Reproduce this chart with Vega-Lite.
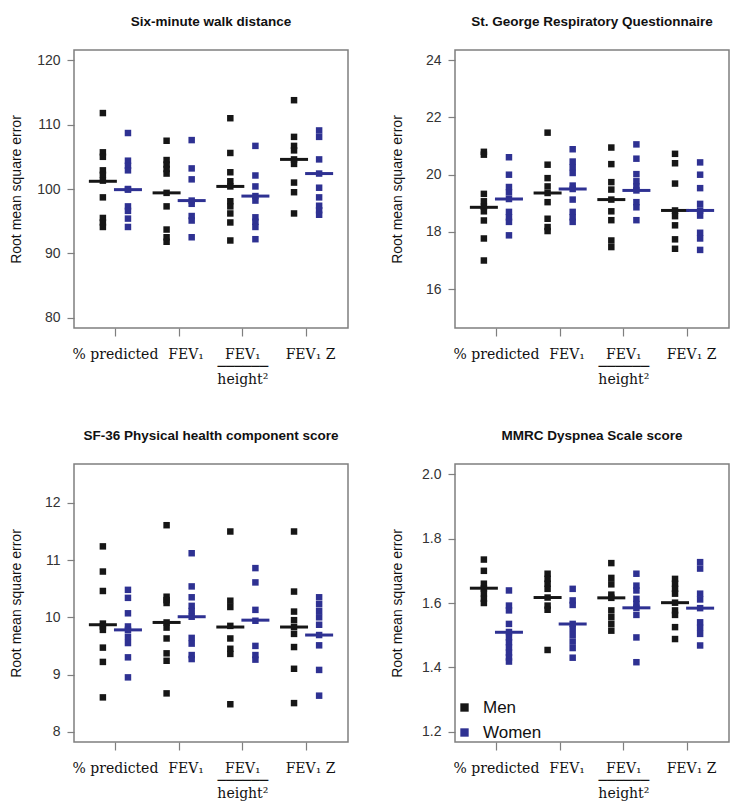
{
  "$schema": "https://vega.github.io/schema/vega-lite/v6.json",
  "padding": {"left": 8, "top": 13, "right": 5, "bottom": 2},
  "background": "white",
  "datasets": {
    "points": [
      {"panel":"6MWD","measure":"% predicted","sex":"Men","rmse":111.8},
      {"panel":"6MWD","measure":"% predicted","sex":"Men","rmse":105.7},
      {"panel":"6MWD","measure":"% predicted","sex":"Men","rmse":105.0},
      {"panel":"6MWD","measure":"% predicted","sex":"Men","rmse":102.9},
      {"panel":"6MWD","measure":"% predicted","sex":"Men","rmse":102.2},
      {"panel":"6MWD","measure":"% predicted","sex":"Men","rmse":101.3},
      {"panel":"6MWD","measure":"% predicted","sex":"Men","rmse":98.7},
      {"panel":"6MWD","measure":"% predicted","sex":"Men","rmse":95.5},
      {"panel":"6MWD","measure":"% predicted","sex":"Men","rmse":94.8},
      {"panel":"6MWD","measure":"% predicted","sex":"Men","rmse":94.1},
      {"panel":"6MWD","measure":"% predicted","sex":"Women","rmse":108.7},
      {"panel":"6MWD","measure":"% predicted","sex":"Women","rmse":104.4},
      {"panel":"6MWD","measure":"% predicted","sex":"Women","rmse":103.6},
      {"panel":"6MWD","measure":"% predicted","sex":"Women","rmse":102.9},
      {"panel":"6MWD","measure":"% predicted","sex":"Women","rmse":100.0},
      {"panel":"6MWD","measure":"% predicted","sex":"Women","rmse":99.9},
      {"panel":"6MWD","measure":"% predicted","sex":"Women","rmse":97.3},
      {"panel":"6MWD","measure":"% predicted","sex":"Women","rmse":96.6},
      {"panel":"6MWD","measure":"% predicted","sex":"Women","rmse":95.4},
      {"panel":"6MWD","measure":"% predicted","sex":"Women","rmse":94.1},
      {"panel":"6MWD","measure":"FEV₁","sex":"Men","rmse":107.5},
      {"panel":"6MWD","measure":"FEV₁","sex":"Men","rmse":104.5},
      {"panel":"6MWD","measure":"FEV₁","sex":"Men","rmse":103.8},
      {"panel":"6MWD","measure":"FEV₁","sex":"Men","rmse":103.1},
      {"panel":"6MWD","measure":"FEV₁","sex":"Men","rmse":102.4},
      {"panel":"6MWD","measure":"FEV₁","sex":"Men","rmse":99.4},
      {"panel":"6MWD","measure":"FEV₁","sex":"Men","rmse":97.3},
      {"panel":"6MWD","measure":"FEV₁","sex":"Men","rmse":93.7},
      {"panel":"6MWD","measure":"FEV₁","sex":"Men","rmse":92.5},
      {"panel":"6MWD","measure":"FEV₁","sex":"Men","rmse":91.8},
      {"panel":"6MWD","measure":"FEV₁","sex":"Women","rmse":107.6},
      {"panel":"6MWD","measure":"FEV₁","sex":"Women","rmse":103.2},
      {"panel":"6MWD","measure":"FEV₁","sex":"Women","rmse":101.5},
      {"panel":"6MWD","measure":"FEV₁","sex":"Women","rmse":98.2},
      {"panel":"6MWD","measure":"FEV₁","sex":"Women","rmse":97.7},
      {"panel":"6MWD","measure":"FEV₁","sex":"Women","rmse":95.8},
      {"panel":"6MWD","measure":"FEV₁","sex":"Women","rmse":95.1},
      {"panel":"6MWD","measure":"FEV₁","sex":"Women","rmse":92.5},
      {"panel":"6MWD","measure":"FEV₁/height²","sex":"Men","rmse":111.0},
      {"panel":"6MWD","measure":"FEV₁/height²","sex":"Men","rmse":105.6},
      {"panel":"6MWD","measure":"FEV₁/height²","sex":"Men","rmse":102.6},
      {"panel":"6MWD","measure":"FEV₁/height²","sex":"Men","rmse":101.2},
      {"panel":"6MWD","measure":"FEV₁/height²","sex":"Men","rmse":100.4},
      {"panel":"6MWD","measure":"FEV₁/height²","sex":"Men","rmse":98.1},
      {"panel":"6MWD","measure":"FEV₁/height²","sex":"Men","rmse":97.3},
      {"panel":"6MWD","measure":"FEV₁/height²","sex":"Men","rmse":96.2},
      {"panel":"6MWD","measure":"FEV₁/height²","sex":"Men","rmse":94.8},
      {"panel":"6MWD","measure":"FEV₁/height²","sex":"Men","rmse":92.0},
      {"panel":"6MWD","measure":"FEV₁/height²","sex":"Women","rmse":106.7},
      {"panel":"6MWD","measure":"FEV₁/height²","sex":"Women","rmse":102.1},
      {"panel":"6MWD","measure":"FEV₁/height²","sex":"Women","rmse":100.4},
      {"panel":"6MWD","measure":"FEV₁/height²","sex":"Women","rmse":98.9},
      {"panel":"6MWD","measure":"FEV₁/height²","sex":"Women","rmse":98.2},
      {"panel":"6MWD","measure":"FEV₁/height²","sex":"Women","rmse":95.6},
      {"panel":"6MWD","measure":"FEV₁/height²","sex":"Women","rmse":94.9},
      {"panel":"6MWD","measure":"FEV₁/height²","sex":"Women","rmse":94.1},
      {"panel":"6MWD","measure":"FEV₁/height²","sex":"Women","rmse":92.2},
      {"panel":"6MWD","measure":"FEV₁ Z","sex":"Men","rmse":113.8},
      {"panel":"6MWD","measure":"FEV₁ Z","sex":"Men","rmse":108.1},
      {"panel":"6MWD","measure":"FEV₁ Z","sex":"Men","rmse":106.7},
      {"panel":"6MWD","measure":"FEV₁ Z","sex":"Men","rmse":106.0},
      {"panel":"6MWD","measure":"FEV₁ Z","sex":"Men","rmse":104.6},
      {"panel":"6MWD","measure":"FEV₁ Z","sex":"Men","rmse":103.9},
      {"panel":"6MWD","measure":"FEV₁ Z","sex":"Men","rmse":101.0},
      {"panel":"6MWD","measure":"FEV₁ Z","sex":"Men","rmse":99.5},
      {"panel":"6MWD","measure":"FEV₁ Z","sex":"Men","rmse":96.2},
      {"panel":"6MWD","measure":"FEV₁ Z","sex":"Women","rmse":109.1},
      {"panel":"6MWD","measure":"FEV₁ Z","sex":"Women","rmse":108.1},
      {"panel":"6MWD","measure":"FEV₁ Z","sex":"Women","rmse":104.6},
      {"panel":"6MWD","measure":"FEV₁ Z","sex":"Women","rmse":102.4},
      {"panel":"6MWD","measure":"FEV₁ Z","sex":"Women","rmse":100.2},
      {"panel":"6MWD","measure":"FEV₁ Z","sex":"Women","rmse":98.7},
      {"panel":"6MWD","measure":"FEV₁ Z","sex":"Women","rmse":97.4},
      {"panel":"6MWD","measure":"FEV₁ Z","sex":"Women","rmse":96.7},
      {"panel":"6MWD","measure":"FEV₁ Z","sex":"Women","rmse":96.0},

      {"panel":"SGRQ","measure":"% predicted","sex":"Men","rmse":20.8},
      {"panel":"SGRQ","measure":"% predicted","sex":"Men","rmse":20.7},
      {"panel":"SGRQ","measure":"% predicted","sex":"Men","rmse":19.33},
      {"panel":"SGRQ","measure":"% predicted","sex":"Men","rmse":19.07},
      {"panel":"SGRQ","measure":"% predicted","sex":"Men","rmse":18.88},
      {"panel":"SGRQ","measure":"% predicted","sex":"Men","rmse":18.72},
      {"panel":"SGRQ","measure":"% predicted","sex":"Men","rmse":18.4},
      {"panel":"SGRQ","measure":"% predicted","sex":"Men","rmse":17.77},
      {"panel":"SGRQ","measure":"% predicted","sex":"Men","rmse":17.0},
      {"panel":"SGRQ","measure":"% predicted","sex":"Women","rmse":20.61},
      {"panel":"SGRQ","measure":"% predicted","sex":"Women","rmse":20.0},
      {"panel":"SGRQ","measure":"% predicted","sex":"Women","rmse":19.57},
      {"panel":"SGRQ","measure":"% predicted","sex":"Women","rmse":19.38},
      {"panel":"SGRQ","measure":"% predicted","sex":"Women","rmse":19.15},
      {"panel":"SGRQ","measure":"% predicted","sex":"Women","rmse":18.7},
      {"panel":"SGRQ","measure":"% predicted","sex":"Women","rmse":18.51},
      {"panel":"SGRQ","measure":"% predicted","sex":"Women","rmse":18.35},
      {"panel":"SGRQ","measure":"% predicted","sex":"Women","rmse":17.88},
      {"panel":"SGRQ","measure":"FEV₁","sex":"Men","rmse":21.47},
      {"panel":"SGRQ","measure":"FEV₁","sex":"Men","rmse":20.35},
      {"panel":"SGRQ","measure":"FEV₁","sex":"Men","rmse":19.88},
      {"panel":"SGRQ","measure":"FEV₁","sex":"Men","rmse":19.59},
      {"panel":"SGRQ","measure":"FEV₁","sex":"Men","rmse":19.36},
      {"panel":"SGRQ","measure":"FEV₁","sex":"Men","rmse":19.04},
      {"panel":"SGRQ","measure":"FEV₁","sex":"Men","rmse":18.46},
      {"panel":"SGRQ","measure":"FEV₁","sex":"Men","rmse":18.17},
      {"panel":"SGRQ","measure":"FEV₁","sex":"Men","rmse":18.03},
      {"panel":"SGRQ","measure":"FEV₁","sex":"Women","rmse":20.89},
      {"panel":"SGRQ","measure":"FEV₁","sex":"Women","rmse":20.46},
      {"panel":"SGRQ","measure":"FEV₁","sex":"Women","rmse":20.26},
      {"panel":"SGRQ","measure":"FEV₁","sex":"Women","rmse":20.06},
      {"panel":"SGRQ","measure":"FEV₁","sex":"Women","rmse":19.62},
      {"panel":"SGRQ","measure":"FEV₁","sex":"Women","rmse":19.5},
      {"panel":"SGRQ","measure":"FEV₁","sex":"Women","rmse":19.13},
      {"panel":"SGRQ","measure":"FEV₁","sex":"Women","rmse":18.7},
      {"panel":"SGRQ","measure":"FEV₁","sex":"Women","rmse":18.51},
      {"panel":"SGRQ","measure":"FEV₁","sex":"Women","rmse":18.35},
      {"panel":"SGRQ","measure":"FEV₁/height²","sex":"Men","rmse":20.95},
      {"panel":"SGRQ","measure":"FEV₁/height²","sex":"Men","rmse":20.37},
      {"panel":"SGRQ","measure":"FEV₁/height²","sex":"Men","rmse":19.74},
      {"panel":"SGRQ","measure":"FEV₁/height²","sex":"Men","rmse":19.48},
      {"panel":"SGRQ","measure":"FEV₁/height²","sex":"Men","rmse":19.13},
      {"panel":"SGRQ","measure":"FEV₁/height²","sex":"Men","rmse":18.72},
      {"panel":"SGRQ","measure":"FEV₁/height²","sex":"Men","rmse":18.41},
      {"panel":"SGRQ","measure":"FEV₁/height²","sex":"Men","rmse":17.7},
      {"panel":"SGRQ","measure":"FEV₁/height²","sex":"Men","rmse":17.47},
      {"panel":"SGRQ","measure":"FEV₁/height²","sex":"Women","rmse":21.06},
      {"panel":"SGRQ","measure":"FEV₁/height²","sex":"Women","rmse":20.56},
      {"panel":"SGRQ","measure":"FEV₁/height²","sex":"Women","rmse":20.02},
      {"panel":"SGRQ","measure":"FEV₁/height²","sex":"Women","rmse":19.77},
      {"panel":"SGRQ","measure":"FEV₁/height²","sex":"Women","rmse":19.59},
      {"panel":"SGRQ","measure":"FEV₁/height²","sex":"Women","rmse":19.45},
      {"panel":"SGRQ","measure":"FEV₁/height²","sex":"Women","rmse":19.04},
      {"panel":"SGRQ","measure":"FEV₁/height²","sex":"Women","rmse":18.86},
      {"panel":"SGRQ","measure":"FEV₁/height²","sex":"Women","rmse":18.41},
      {"panel":"SGRQ","measure":"FEV₁ Z","sex":"Men","rmse":20.73},
      {"panel":"SGRQ","measure":"FEV₁ Z","sex":"Men","rmse":20.4},
      {"panel":"SGRQ","measure":"FEV₁ Z","sex":"Men","rmse":19.69},
      {"panel":"SGRQ","measure":"FEV₁ Z","sex":"Men","rmse":18.75},
      {"panel":"SGRQ","measure":"FEV₁ Z","sex":"Men","rmse":18.55},
      {"panel":"SGRQ","measure":"FEV₁ Z","sex":"Men","rmse":18.23},
      {"panel":"SGRQ","measure":"FEV₁ Z","sex":"Men","rmse":17.74},
      {"panel":"SGRQ","measure":"FEV₁ Z","sex":"Men","rmse":17.41},
      {"panel":"SGRQ","measure":"FEV₁ Z","sex":"Women","rmse":20.43},
      {"panel":"SGRQ","measure":"FEV₁ Z","sex":"Women","rmse":20.0},
      {"panel":"SGRQ","measure":"FEV₁ Z","sex":"Women","rmse":19.53},
      {"panel":"SGRQ","measure":"FEV₁ Z","sex":"Women","rmse":18.98},
      {"panel":"SGRQ","measure":"FEV₁ Z","sex":"Women","rmse":18.75},
      {"panel":"SGRQ","measure":"FEV₁ Z","sex":"Women","rmse":18.57},
      {"panel":"SGRQ","measure":"FEV₁ Z","sex":"Women","rmse":17.97},
      {"panel":"SGRQ","measure":"FEV₁ Z","sex":"Women","rmse":17.77},
      {"panel":"SGRQ","measure":"FEV₁ Z","sex":"Women","rmse":17.37},

      {"panel":"SF36","measure":"% predicted","sex":"Men","rmse":11.24},
      {"panel":"SF36","measure":"% predicted","sex":"Men","rmse":10.8},
      {"panel":"SF36","measure":"% predicted","sex":"Men","rmse":10.46},
      {"panel":"SF36","measure":"% predicted","sex":"Men","rmse":9.89},
      {"panel":"SF36","measure":"% predicted","sex":"Men","rmse":9.84},
      {"panel":"SF36","measure":"% predicted","sex":"Men","rmse":9.78},
      {"panel":"SF36","measure":"% predicted","sex":"Men","rmse":9.47},
      {"panel":"SF36","measure":"% predicted","sex":"Men","rmse":9.22},
      {"panel":"SF36","measure":"% predicted","sex":"Men","rmse":8.6},
      {"panel":"SF36","measure":"% predicted","sex":"Women","rmse":10.48},
      {"panel":"SF36","measure":"% predicted","sex":"Women","rmse":10.34},
      {"panel":"SF36","measure":"% predicted","sex":"Women","rmse":10.07},
      {"panel":"SF36","measure":"% predicted","sex":"Women","rmse":9.84},
      {"panel":"SF36","measure":"% predicted","sex":"Women","rmse":9.78},
      {"panel":"SF36","measure":"% predicted","sex":"Women","rmse":9.66},
      {"panel":"SF36","measure":"% predicted","sex":"Women","rmse":9.55},
      {"panel":"SF36","measure":"% predicted","sex":"Women","rmse":9.3},
      {"panel":"SF36","measure":"% predicted","sex":"Women","rmse":8.95},
      {"panel":"SF36","measure":"FEV₁","sex":"Men","rmse":11.61},
      {"panel":"SF36","measure":"FEV₁","sex":"Men","rmse":10.36},
      {"panel":"SF36","measure":"FEV₁","sex":"Men","rmse":10.3},
      {"panel":"SF36","measure":"FEV₁","sex":"Men","rmse":10.25},
      {"panel":"SF36","measure":"FEV₁","sex":"Men","rmse":9.91},
      {"panel":"SF36","measure":"FEV₁","sex":"Men","rmse":9.82},
      {"panel":"SF36","measure":"FEV₁","sex":"Men","rmse":9.63},
      {"panel":"SF36","measure":"FEV₁","sex":"Men","rmse":9.37},
      {"panel":"SF36","measure":"FEV₁","sex":"Men","rmse":9.24},
      {"panel":"SF36","measure":"FEV₁","sex":"Men","rmse":8.67},
      {"panel":"SF36","measure":"FEV₁","sex":"Women","rmse":11.12},
      {"panel":"SF36","measure":"FEV₁","sex":"Women","rmse":10.54},
      {"panel":"SF36","measure":"FEV₁","sex":"Women","rmse":10.35},
      {"panel":"SF36","measure":"FEV₁","sex":"Women","rmse":10.2},
      {"panel":"SF36","measure":"FEV₁","sex":"Women","rmse":10.11},
      {"panel":"SF36","measure":"FEV₁","sex":"Women","rmse":10.01},
      {"panel":"SF36","measure":"FEV₁","sex":"Women","rmse":9.64},
      {"panel":"SF36","measure":"FEV₁","sex":"Women","rmse":9.54},
      {"panel":"SF36","measure":"FEV₁","sex":"Women","rmse":9.34},
      {"panel":"SF36","measure":"FEV₁","sex":"Women","rmse":9.27},
      {"panel":"SF36","measure":"FEV₁/height²","sex":"Men","rmse":11.5},
      {"panel":"SF36","measure":"FEV₁/height²","sex":"Men","rmse":10.29},
      {"panel":"SF36","measure":"FEV₁/height²","sex":"Men","rmse":10.18},
      {"panel":"SF36","measure":"FEV₁/height²","sex":"Men","rmse":9.85},
      {"panel":"SF36","measure":"FEV₁/height²","sex":"Men","rmse":9.63},
      {"panel":"SF36","measure":"FEV₁/height²","sex":"Men","rmse":9.45},
      {"panel":"SF36","measure":"FEV₁/height²","sex":"Men","rmse":9.36},
      {"panel":"SF36","measure":"FEV₁/height²","sex":"Men","rmse":8.48},
      {"panel":"SF36","measure":"FEV₁/height²","sex":"Women","rmse":10.86},
      {"panel":"SF36","measure":"FEV₁/height²","sex":"Women","rmse":10.61},
      {"panel":"SF36","measure":"FEV₁/height²","sex":"Women","rmse":10.13},
      {"panel":"SF36","measure":"FEV₁/height²","sex":"Women","rmse":9.94},
      {"panel":"SF36","measure":"FEV₁/height²","sex":"Women","rmse":9.5},
      {"panel":"SF36","measure":"FEV₁/height²","sex":"Women","rmse":9.34},
      {"panel":"SF36","measure":"FEV₁/height²","sex":"Women","rmse":9.26},
      {"panel":"SF36","measure":"FEV₁ Z","sex":"Men","rmse":11.5},
      {"panel":"SF36","measure":"FEV₁ Z","sex":"Men","rmse":10.45},
      {"panel":"SF36","measure":"FEV₁ Z","sex":"Men","rmse":10.1},
      {"panel":"SF36","measure":"FEV₁ Z","sex":"Men","rmse":9.95},
      {"panel":"SF36","measure":"FEV₁ Z","sex":"Men","rmse":9.83},
      {"panel":"SF36","measure":"FEV₁ Z","sex":"Men","rmse":9.71},
      {"panel":"SF36","measure":"FEV₁ Z","sex":"Men","rmse":9.48},
      {"panel":"SF36","measure":"FEV₁ Z","sex":"Men","rmse":9.1},
      {"panel":"SF36","measure":"FEV₁ Z","sex":"Men","rmse":8.5},
      {"panel":"SF36","measure":"FEV₁ Z","sex":"Women","rmse":10.35},
      {"panel":"SF36","measure":"FEV₁ Z","sex":"Women","rmse":10.23},
      {"panel":"SF36","measure":"FEV₁ Z","sex":"Women","rmse":10.11},
      {"panel":"SF36","measure":"FEV₁ Z","sex":"Women","rmse":10.0},
      {"panel":"SF36","measure":"FEV₁ Z","sex":"Women","rmse":9.87},
      {"panel":"SF36","measure":"FEV₁ Z","sex":"Women","rmse":9.69},
      {"panel":"SF36","measure":"FEV₁ Z","sex":"Women","rmse":9.51},
      {"panel":"SF36","measure":"FEV₁ Z","sex":"Women","rmse":9.08},
      {"panel":"SF36","measure":"FEV₁ Z","sex":"Women","rmse":8.63},

      {"panel":"MMRC","measure":"% predicted","sex":"Men","rmse":1.735},
      {"panel":"MMRC","measure":"% predicted","sex":"Men","rmse":1.70},
      {"panel":"MMRC","measure":"% predicted","sex":"Men","rmse":1.66},
      {"panel":"MMRC","measure":"% predicted","sex":"Men","rmse":1.645},
      {"panel":"MMRC","measure":"% predicted","sex":"Men","rmse":1.63},
      {"panel":"MMRC","measure":"% predicted","sex":"Men","rmse":1.613},
      {"panel":"MMRC","measure":"% predicted","sex":"Men","rmse":1.60},
      {"panel":"MMRC","measure":"% predicted","sex":"Women","rmse":1.639},
      {"panel":"MMRC","measure":"% predicted","sex":"Women","rmse":1.592},
      {"panel":"MMRC","measure":"% predicted","sex":"Women","rmse":1.577},
      {"panel":"MMRC","measure":"% predicted","sex":"Women","rmse":1.535},
      {"panel":"MMRC","measure":"% predicted","sex":"Women","rmse":1.51},
      {"panel":"MMRC","measure":"% predicted","sex":"Women","rmse":1.493},
      {"panel":"MMRC","measure":"% predicted","sex":"Women","rmse":1.478},
      {"panel":"MMRC","measure":"% predicted","sex":"Women","rmse":1.462},
      {"panel":"MMRC","measure":"% predicted","sex":"Women","rmse":1.446},
      {"panel":"MMRC","measure":"% predicted","sex":"Women","rmse":1.431},
      {"panel":"MMRC","measure":"% predicted","sex":"Women","rmse":1.418},
      {"panel":"MMRC","measure":"FEV₁","sex":"Men","rmse":1.691},
      {"panel":"MMRC","measure":"FEV₁","sex":"Men","rmse":1.675},
      {"panel":"MMRC","measure":"FEV₁","sex":"Men","rmse":1.66},
      {"panel":"MMRC","measure":"FEV₁","sex":"Men","rmse":1.644},
      {"panel":"MMRC","measure":"FEV₁","sex":"Men","rmse":1.617},
      {"panel":"MMRC","measure":"FEV₁","sex":"Men","rmse":1.592},
      {"panel":"MMRC","measure":"FEV₁","sex":"Men","rmse":1.579},
      {"panel":"MMRC","measure":"FEV₁","sex":"Men","rmse":1.454},
      {"panel":"MMRC","measure":"FEV₁","sex":"Women","rmse":1.644},
      {"panel":"MMRC","measure":"FEV₁","sex":"Women","rmse":1.608},
      {"panel":"MMRC","measure":"FEV₁","sex":"Women","rmse":1.594},
      {"panel":"MMRC","measure":"FEV₁","sex":"Women","rmse":1.535},
      {"panel":"MMRC","measure":"FEV₁","sex":"Women","rmse":1.52},
      {"panel":"MMRC","measure":"FEV₁","sex":"Women","rmse":1.5},
      {"panel":"MMRC","measure":"FEV₁","sex":"Women","rmse":1.48},
      {"panel":"MMRC","measure":"FEV₁","sex":"Women","rmse":1.46},
      {"panel":"MMRC","measure":"FEV₁","sex":"Women","rmse":1.43},
      {"panel":"MMRC","measure":"FEV₁/height²","sex":"Men","rmse":1.724},
      {"panel":"MMRC","measure":"FEV₁/height²","sex":"Men","rmse":1.678},
      {"panel":"MMRC","measure":"FEV₁/height²","sex":"Men","rmse":1.658},
      {"panel":"MMRC","measure":"FEV₁/height²","sex":"Men","rmse":1.626},
      {"panel":"MMRC","measure":"FEV₁/height²","sex":"Men","rmse":1.616},
      {"panel":"MMRC","measure":"FEV₁/height²","sex":"Men","rmse":1.577},
      {"panel":"MMRC","measure":"FEV₁/height²","sex":"Men","rmse":1.556},
      {"panel":"MMRC","measure":"FEV₁/height²","sex":"Men","rmse":1.535},
      {"panel":"MMRC","measure":"FEV₁/height²","sex":"Men","rmse":1.514},
      {"panel":"MMRC","measure":"FEV₁/height²","sex":"Women","rmse":1.691},
      {"panel":"MMRC","measure":"FEV₁/height²","sex":"Women","rmse":1.654},
      {"panel":"MMRC","measure":"FEV₁/height²","sex":"Women","rmse":1.639},
      {"panel":"MMRC","measure":"FEV₁/height²","sex":"Women","rmse":1.613},
      {"panel":"MMRC","measure":"FEV₁/height²","sex":"Women","rmse":1.597},
      {"panel":"MMRC","measure":"FEV₁/height²","sex":"Women","rmse":1.585},
      {"panel":"MMRC","measure":"FEV₁/height²","sex":"Women","rmse":1.563},
      {"panel":"MMRC","measure":"FEV₁/height²","sex":"Women","rmse":1.493},
      {"panel":"MMRC","measure":"FEV₁/height²","sex":"Women","rmse":1.416},
      {"panel":"MMRC","measure":"FEV₁ Z","sex":"Men","rmse":1.675},
      {"panel":"MMRC","measure":"FEV₁ Z","sex":"Men","rmse":1.66},
      {"panel":"MMRC","measure":"FEV₁ Z","sex":"Men","rmse":1.644},
      {"panel":"MMRC","measure":"FEV₁ Z","sex":"Men","rmse":1.629},
      {"panel":"MMRC","measure":"FEV₁ Z","sex":"Men","rmse":1.601},
      {"panel":"MMRC","measure":"FEV₁ Z","sex":"Men","rmse":1.577},
      {"panel":"MMRC","measure":"FEV₁ Z","sex":"Men","rmse":1.563},
      {"panel":"MMRC","measure":"FEV₁ Z","sex":"Men","rmse":1.525},
      {"panel":"MMRC","measure":"FEV₁ Z","sex":"Men","rmse":1.488},
      {"panel":"MMRC","measure":"FEV₁ Z","sex":"Women","rmse":1.727},
      {"panel":"MMRC","measure":"FEV₁ Z","sex":"Women","rmse":1.707},
      {"panel":"MMRC","measure":"FEV₁ Z","sex":"Women","rmse":1.629},
      {"panel":"MMRC","measure":"FEV₁ Z","sex":"Women","rmse":1.611},
      {"panel":"MMRC","measure":"FEV₁ Z","sex":"Women","rmse":1.584},
      {"panel":"MMRC","measure":"FEV₁ Z","sex":"Women","rmse":1.54},
      {"panel":"MMRC","measure":"FEV₁ Z","sex":"Women","rmse":1.523},
      {"panel":"MMRC","measure":"FEV₁ Z","sex":"Women","rmse":1.504},
      {"panel":"MMRC","measure":"FEV₁ Z","sex":"Women","rmse":1.468}
    ],
    "medians": [
      {"panel":"6MWD","measure":"% predicted","sex":"Men","rmse":101.2},
      {"panel":"6MWD","measure":"% predicted","sex":"Women","rmse":99.9},
      {"panel":"6MWD","measure":"FEV₁","sex":"Men","rmse":99.4},
      {"panel":"6MWD","measure":"FEV₁","sex":"Women","rmse":98.2},
      {"panel":"6MWD","measure":"FEV₁/height²","sex":"Men","rmse":100.4},
      {"panel":"6MWD","measure":"FEV₁/height²","sex":"Women","rmse":98.9},
      {"panel":"6MWD","measure":"FEV₁ Z","sex":"Men","rmse":104.6},
      {"panel":"6MWD","measure":"FEV₁ Z","sex":"Women","rmse":102.4},
      {"panel":"SGRQ","measure":"% predicted","sex":"Men","rmse":18.86},
      {"panel":"SGRQ","measure":"% predicted","sex":"Women","rmse":19.15},
      {"panel":"SGRQ","measure":"FEV₁","sex":"Men","rmse":19.36},
      {"panel":"SGRQ","measure":"FEV₁","sex":"Women","rmse":19.5},
      {"panel":"SGRQ","measure":"FEV₁/height²","sex":"Men","rmse":19.13},
      {"panel":"SGRQ","measure":"FEV₁/height²","sex":"Women","rmse":19.45},
      {"panel":"SGRQ","measure":"FEV₁ Z","sex":"Men","rmse":18.75},
      {"panel":"SGRQ","measure":"FEV₁ Z","sex":"Women","rmse":18.75},
      {"panel":"SF36","measure":"% predicted","sex":"Men","rmse":9.87},
      {"panel":"SF36","measure":"% predicted","sex":"Women","rmse":9.78},
      {"panel":"SF36","measure":"FEV₁","sex":"Men","rmse":9.91},
      {"panel":"SF36","measure":"FEV₁","sex":"Women","rmse":10.01},
      {"panel":"SF36","measure":"FEV₁/height²","sex":"Men","rmse":9.83},
      {"panel":"SF36","measure":"FEV₁/height²","sex":"Women","rmse":9.95},
      {"panel":"SF36","measure":"FEV₁ Z","sex":"Men","rmse":9.83},
      {"panel":"SF36","measure":"FEV₁ Z","sex":"Women","rmse":9.69},
      {"panel":"MMRC","measure":"% predicted","sex":"Men","rmse":1.646},
      {"panel":"MMRC","measure":"% predicted","sex":"Women","rmse":1.509},
      {"panel":"MMRC","measure":"FEV₁","sex":"Men","rmse":1.617},
      {"panel":"MMRC","measure":"FEV₁","sex":"Women","rmse":1.535},
      {"panel":"MMRC","measure":"FEV₁/height²","sex":"Men","rmse":1.616},
      {"panel":"MMRC","measure":"FEV₁/height²","sex":"Women","rmse":1.585},
      {"panel":"MMRC","measure":"FEV₁ Z","sex":"Men","rmse":1.601},
      {"panel":"MMRC","measure":"FEV₁ Z","sex":"Women","rmse":1.584}
    ]
  },
  "config": {
    "view": {"stroke": "#7f7f7f", "strokeWidth": 1.5},
    "title": {"font": "Liberation Sans", "fontSize": 13.5, "fontWeight": "bold", "color": "#111111", "anchor": "middle", "frame": "group", "offset": 22},
    "axis": {"domain": false, "grid": false, "tickColor": "#7f7f7f", "tickWidth": 1.2},
    "axisX": {"labelFont": "DejaVu Serif", "labelFontSize": 14, "labelColor": "#111111", "labelAngle": 0, "tickSize": 8, "labelPadding": 11, "labelLineHeight": 12.5, "title": null,
      "labelOffset": {"condition": [{"test": "datum.value == 'FEV₁'", "value": 7}, {"test": "datum.value == 'FEV₁ Z'", "value": 4}], "value": 0},
      "labelExpr": "datum.value == 'FEV₁/height²' ? ['FEV₁', '──────', 'height²'] : datum.value"},
    "axisY": {"labelFont": "Liberation Sans", "labelFontSize": 14, "labelColor": "#333333", "tickSize": 7, "labelPadding": 7, "titleFont": "Liberation Sans", "titleFontSize": 14, "titleFontWeight": "normal", "titleColor": "#111111", "titleX": -51},
    "legend": {"labelFont": "Liberation Sans", "labelFontSize": 17, "labelColor": "#111111"}
  },
  "columns": 2,
  "spacing": {"row": 40, "column": 40},
  "resolve": {"scale": {"color": "independent", "y": "independent"}, "legend": {"color": "independent"}},
  "concat": [
    {
      "title": "Six-minute walk distance",
      "width": 274, "height": 278,
      "layer": [
        {"data": {"name": "points"}, "transform": [{"filter": "datum.panel === '6MWD'"}],
         "mark": {"type": "square", "size": 42, "opacity": 1},
         "encoding": {
           "x": {"field": "measure", "type": "nominal", "sort": ["% predicted", "FEV₁", "FEV₁/height²", "FEV₁ Z"], "scale": {"paddingInner": 0, "paddingOuter": 0.15}},
           "xOffset": {"field": "sex", "type": "nominal", "scale": {"paddingInner": 0, "paddingOuter": 0.27}},
           "y": {"field": "rmse", "type": "quantitative", "scale": {"domain": [78.4, 121.6], "nice": false, "zero": false}, "axis": {"values": [80, 90, 100, 110, 120], "format": "d", "title": "Root mean square error"}},
           "color": {"field": "sex", "type": "nominal", "scale": {"domain": ["Men", "Women"], "range": ["#161616", "#2e3192"]}, "legend": null}
         }},
        {"data": {"name": "medians"}, "transform": [{"filter": "datum.panel === '6MWD'"}],
         "mark": {"type": "tick", "size": 28, "thickness": 3, "opacity": 1},
         "encoding": {
           "x": {"field": "measure", "type": "nominal", "sort": ["% predicted", "FEV₁", "FEV₁/height²", "FEV₁ Z"]},
           "xOffset": {"field": "sex", "type": "nominal"},
           "y": {"field": "rmse", "type": "quantitative"},
           "color": {"field": "sex", "type": "nominal", "legend": null}
         }}
      ]
    },
    {
      "title": "St. George Respiratory Questionnaire",
      "width": 274, "height": 278,
      "layer": [
        {"data": {"name": "points"}, "transform": [{"filter": "datum.panel === 'SGRQ'"}],
         "mark": {"type": "square", "size": 42, "opacity": 1},
         "encoding": {
           "x": {"field": "measure", "type": "nominal", "sort": ["% predicted", "FEV₁", "FEV₁/height²", "FEV₁ Z"], "scale": {"paddingInner": 0, "paddingOuter": 0.15}},
           "xOffset": {"field": "sex", "type": "nominal", "scale": {"paddingInner": 0, "paddingOuter": 0.27}},
           "y": {"field": "rmse", "type": "quantitative", "scale": {"domain": [14.64, 24.36], "nice": false, "zero": false}, "axis": {"values": [16, 18, 20, 22, 24], "format": "d", "title": "Root mean square error"}},
           "color": {"field": "sex", "type": "nominal", "scale": {"domain": ["Men", "Women"], "range": ["#161616", "#2e3192"]}, "legend": null}
         }},
        {"data": {"name": "medians"}, "transform": [{"filter": "datum.panel === 'SGRQ'"}],
         "mark": {"type": "tick", "size": 28, "thickness": 3, "opacity": 1},
         "encoding": {
           "x": {"field": "measure", "type": "nominal", "sort": ["% predicted", "FEV₁", "FEV₁/height²", "FEV₁ Z"]},
           "xOffset": {"field": "sex", "type": "nominal"},
           "y": {"field": "rmse", "type": "quantitative"},
           "color": {"field": "sex", "type": "nominal", "legend": null}
         }}
      ]
    },
    {
      "title": "SF-36 Physical health component score",
      "width": 274, "height": 278,
      "layer": [
        {"data": {"name": "points"}, "transform": [{"filter": "datum.panel === 'SF36'"}],
         "mark": {"type": "square", "size": 42, "opacity": 1},
         "encoding": {
           "x": {"field": "measure", "type": "nominal", "sort": ["% predicted", "FEV₁", "FEV₁/height²", "FEV₁ Z"], "scale": {"paddingInner": 0, "paddingOuter": 0.15}},
           "xOffset": {"field": "sex", "type": "nominal", "scale": {"paddingInner": 0, "paddingOuter": 0.27}},
           "y": {"field": "rmse", "type": "quantitative", "scale": {"domain": [7.82, 12.68], "nice": false, "zero": false}, "axis": {"values": [8, 9, 10, 11, 12], "format": "d", "title": "Root mean square error"}},
           "color": {"field": "sex", "type": "nominal", "scale": {"domain": ["Men", "Women"], "range": ["#161616", "#2e3192"]}, "legend": null}
         }},
        {"data": {"name": "medians"}, "transform": [{"filter": "datum.panel === 'SF36'"}],
         "mark": {"type": "tick", "size": 28, "thickness": 3, "opacity": 1},
         "encoding": {
           "x": {"field": "measure", "type": "nominal", "sort": ["% predicted", "FEV₁", "FEV₁/height²", "FEV₁ Z"]},
           "xOffset": {"field": "sex", "type": "nominal"},
           "y": {"field": "rmse", "type": "quantitative"},
           "color": {"field": "sex", "type": "nominal", "legend": null}
         }}
      ]
    },
    {
      "title": "MMRC Dyspnea Scale score",
      "width": 274, "height": 278,
      "layer": [
        {"data": {"name": "points"}, "transform": [{"filter": "datum.panel === 'MMRC'"}],
         "mark": {"type": "square", "size": 42, "opacity": 1},
         "encoding": {
           "x": {"field": "measure", "type": "nominal", "sort": ["% predicted", "FEV₁", "FEV₁/height²", "FEV₁ Z"], "scale": {"paddingInner": 0, "paddingOuter": 0.15}},
           "xOffset": {"field": "sex", "type": "nominal", "scale": {"paddingInner": 0, "paddingOuter": 0.27}},
           "y": {"field": "rmse", "type": "quantitative", "scale": {"domain": [1.168, 2.032], "nice": false, "zero": false}, "axis": {"values": [1.2, 1.4, 1.6, 1.8, 2.0], "format": ".1f", "title": "Root mean square error"}},
           "color": {"field": "sex", "type": "nominal", "scale": {"domain": ["Men", "Women"], "range": ["#161616", "#2e3192"]},
             "legend": {"orient": "bottom-left", "title": null, "symbolType": "square", "symbolSize": 70, "symbolStrokeWidth": 0, "rowPadding": 7, "offset": 0, "padding": 1, "labelOffset": 10}}
         }},
        {"data": {"name": "medians"}, "transform": [{"filter": "datum.panel === 'MMRC'"}],
         "mark": {"type": "tick", "size": 28, "thickness": 3, "opacity": 1},
         "encoding": {
           "x": {"field": "measure", "type": "nominal", "sort": ["% predicted", "FEV₁", "FEV₁/height²", "FEV₁ Z"]},
           "xOffset": {"field": "sex", "type": "nominal"},
           "y": {"field": "rmse", "type": "quantitative"},
           "color": {"field": "sex", "type": "nominal"}
         }}
      ]
    }
  ]
}
